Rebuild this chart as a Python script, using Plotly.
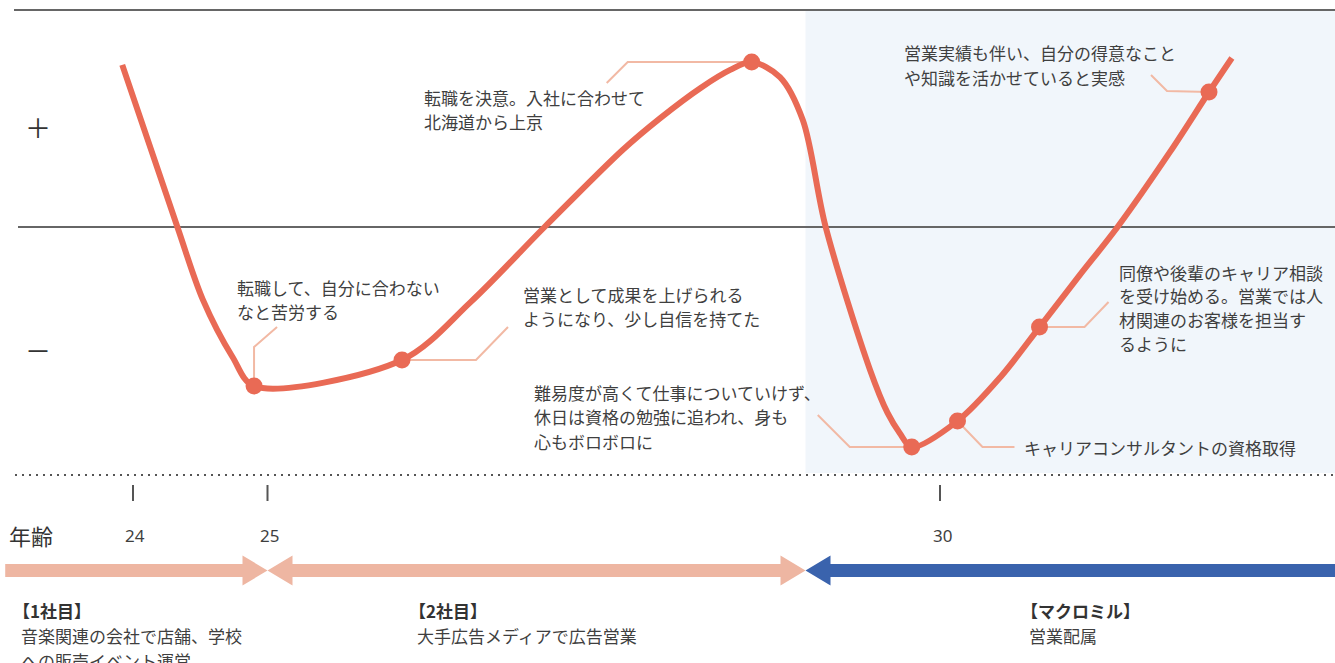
import plotly.graph_objects as go

# ---------------- data ----------------
# motivation curve: age (years) vs. motivation score (0 = neutral line, 100 = top line)
curve_age = [23.92, 24.33, 24.52, 24.74, 24.90, 26.00, 26.51, 27.06, 27.64,
             27.92, 28.22, 28.44, 28.60, 28.81, 28.98, 29.15, 29.48, 29.61, 29.70,
             29.79, 30.13, 30.45, 30.74, 31.04, 31.32, 31.71, 32.00, 32.17]
curve_score = [74.7, 0.0, -33.6, -59.9, -73.3, -61.3, -34.6, 0.0, 35.5,
               50.2, 64.1, 72.4, 76.0, 69.1, 49.3, 0.0, -65.9, -85.7, -94.9,
               -101.4, -89.4, -69.1, -46.1, -22.1, 0.0, 34.6, 62.2, 77.9]

# events (marked points)
event_age = [24.90, 26.00, 28.60, 29.79, 30.13, 30.74, 32.00]
event_score = [-73.3, -61.3, 76.0, -101.4, -89.4, -46.1, 62.2]
event_lines = [
    ["転職して、自分に合わない", "なと苦労する"],
    ["営業として成果を上げられる", "ようになり、少し自信を持てた"],
    ["転職を決意。入社に合わせて", "北海道から上京"],
    ["難易度が高くて仕事についていけず、", "休日は資格の勉強に追われ、身も", "心もボロボロに"],
    ["キャリアコンサルタントの資格取得"],
    ["同僚や後輩のキャリア相談", "を受け始める。営業では人", "材関連のお客様を担当す", "るように"],
    ["営業実績も伴い、自分の得意なこと", "や知識を活かせていると実感"],
]

# age axis
tick_ages = [24, 25, 30]
tick_labels = ["24", "25", "30"]
axis_title = "年齢"

# career periods
career_names = ["【1社目】", "【2社目】", "【マクロミル】"]
career_desc = [["音楽関連の会社で店舗、学校", "への販売イベント運営"],
               ["大手広告メディアで広告営業"],
               ["営業配属"]]
career_from = [23.05, 25.0, 29.0]
career_to = [25.0, 29.0, 32.94]

# ---------------- layout / style ----------------
W, H = 1335, 663
PX_PER_YEAR = 134.5      # horizontal scale
X_AGE24 = 133            # pixel of age 24
PX_PER_UNIT = 2.17       # vertical scale
Y_ZERO = 227             # pixel of score 0

CORAL = "#E96A55"
LEADER = "#F2B9A4"
SALMON = "#EEB6A2"
BLUE = "#3A63AD"
TEXT = "#3F3F3F"
LINE = "#666666"
SHADE = "#F1F6FB"
FONT = "Noto Sans CJK JP, Noto Sans, sans-serif"


def age_of(px):
    return 24 + (px - X_AGE24) / PX_PER_YEAR


def score_of(py):
    return (Y_ZERO - py) / PX_PER_UNIT


def pyp(py):  # pixel y -> paper y
    return 1 - py / H


def pxp(px):  # pixel x -> paper x
    return px / W


# leader-line offsets (pixels) relative to each marker: elbow and end
leader_offsets = [((0, -39), (23, -59)),
                  ((74, 0), (106, -33)),
                  ((-124, 0), (-145, 21)),
                  ((-62, 0), (-94, -32)),
                  ((25, 26), (57, 26)),
                  ((45, 0), (69, -25)),
                  ((-42, -1), (-58, -17))]
# label first-line (left x, centre y) in pixels and line step
label_pos = [(236, 287), (522, 294), (423, 97), (533, 392), (1023, 447), (1118, 272), (903, 53)]
label_step = [24, 24, 24, 24.5, 24, 23.7, 24]
career_label_x = [20, 416, 1028]

fig = go.Figure()

# leader lines
lx, ly = [], []
for a, s, (e1, e2) in zip(event_age, event_score, leader_offsets):
    lx += [a, a + e1[0] / PX_PER_YEAR, a + e2[0] / PX_PER_YEAR, None]
    ly += [s, s - e1[1] / PX_PER_UNIT, s - e2[1] / PX_PER_UNIT, None]
fig.add_trace(go.Scatter(x=lx, y=ly, mode="lines", line=dict(color=LEADER, width=2),
                         hoverinfo="skip"))

# curve
fig.add_trace(go.Scatter(x=curve_age, y=curve_score, mode="lines",
                         line=dict(color=CORAL, width=6, shape="spline", smoothing=0.9),
                         hoverinfo="skip"))
# markers
fig.add_trace(go.Scatter(x=event_age, y=event_score, mode="markers",
                         marker=dict(color=CORAL, size=17, line=dict(width=0)),
                         hoverinfo="skip"))

shapes = []
# shaded current-company band
shapes.append(dict(type="rect", xref="x", yref="paper", x0=career_from[2], x1=career_to[2],
                   y0=pyp(473), y1=pyp(11), fillcolor=SHADE, line=dict(width=0), layer="below"))
# top and zero lines
shapes.append(dict(type="line", xref="paper", yref="paper", x0=pxp(14), x1=1,
                   y0=pyp(10), y1=pyp(10), line=dict(color=LINE, width=2), layer="below"))
shapes.append(dict(type="line", xref="paper", yref="y", x0=pxp(18), x1=1,
                   y0=0, y1=0, line=dict(color=LINE, width=2), layer="below"))
# dotted base line
shapes.append(dict(type="line", xref="paper", yref="paper", x0=pxp(15), x1=1,
                   y0=pyp(475), y1=pyp(475), line=dict(color="#555555", width=2, dash="2px,5px"),
                   layer="below"))
# age ticks
for a in tick_ages:
    shapes.append(dict(type="line", xref="x", yref="paper", x0=a, x1=a,
                       y0=pyp(485), y1=pyp(501), line=dict(color="#555555", width=2)))

# career arrows
yc = 570.5
shaft, head_h, head_l = 6.5, 15, 25


def arrow_path(a0, a1, left_head, right_head):
    hl = head_l / PX_PER_YEAR
    pts = []
    if left_head:
        pts += [(a0, yc), (a0 + hl, yc - head_h), (a0 + hl, yc - shaft)]
    else:
        pts += [(a0, yc - shaft)]
    if right_head:
        pts += [(a1 - hl, yc - shaft), (a1 - hl, yc - head_h), (a1, yc),
                (a1 - hl, yc + head_h), (a1 - hl, yc + shaft)]
    else:
        pts += [(a1, yc - shaft), (a1, yc + shaft)]
    if left_head:
        pts += [(a0 + hl, yc + shaft), (a0 + hl, yc + head_h)]
    else:
        pts += [(a0, yc + shaft)]
    return "M " + " L ".join(f"{x:.4f},{pyp(y):.5f}" for x, y in pts) + " Z"


arrow_specs = [(False, True, SALMON), (True, True, SALMON), (True, False, BLUE)]
for a0, a1, (lh, rh, col) in zip(career_from, career_to, arrow_specs):
    shapes.append(dict(type="path", xref="x", yref="paper", path=arrow_path(a0, a1, lh, rh),
                       fillcolor=col, line=dict(width=0)))

annotations = []


def add_text(x, y, text, size=17, color=TEXT, xanchor="left", bold=False, family=FONT):
    annotations.append(dict(xref="paper", yref="paper", x=pxp(x), y=pyp(y),
                            text=f"<b>{text}</b>" if bold else text, showarrow=False,
                            xanchor=xanchor, yanchor="middle", align="left",
                            font=dict(family=family, size=size, color=color)))


# plus / minus signs
add_text(38, 127, "＋", size=26, color="#333333", xanchor="center")
add_text(38, 349, "－", size=26, color="#333333", xanchor="center")

# event labels
for lines, (x, y0), step in zip(event_lines, label_pos, label_step):
    for i, t in enumerate(lines):
        add_text(x - 1, y0 + i * step, t)

# age axis labels
add_text(7, 535, axis_title, size=22, color="#333333")
for a, t in zip(tick_ages, tick_labels):
    annotations.append(dict(xref="x", yref="paper", x=a + 2 / PX_PER_YEAR, y=pyp(535), text=t,
                            showarrow=False, xanchor="center", yanchor="middle",
                            font=dict(family="Noto Sans, sans-serif", size=17, color=TEXT)))

# career labels
for x, name, desc in zip(career_label_x, career_names, career_desc):
    add_text(x - 9, 610, name, bold=True, color="#333333")
    for i, t in enumerate(desc):
        add_text(x - 1, 635 + i * 25, t)

fig.update_layout(
    width=W, height=H, margin=dict(l=0, r=0, t=0, b=0),
    paper_bgcolor="white", plot_bgcolor="white", showlegend=False,
    xaxis=dict(range=[age_of(0), age_of(W)], visible=False, fixedrange=True),
    yaxis=dict(range=[score_of(H), score_of(0)], visible=False, fixedrange=True),
    shapes=shapes, annotations=annotations,
)

fig.write_html("out.html")
